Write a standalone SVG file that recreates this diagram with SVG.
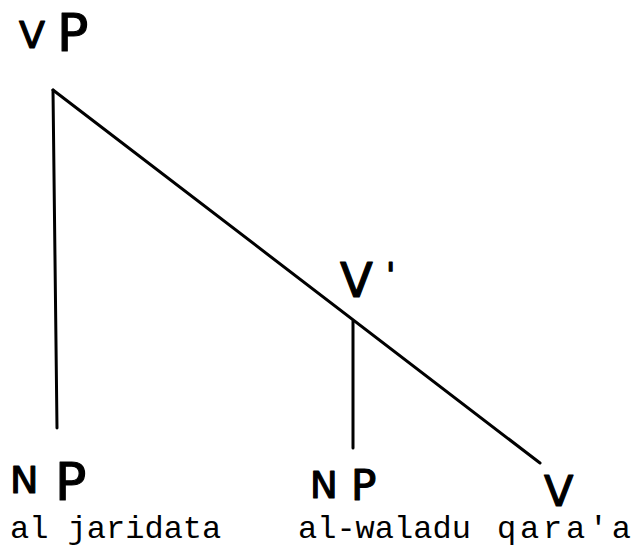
<svg xmlns="http://www.w3.org/2000/svg" width="634" height="549" viewBox="0 0 634 549">
<style>
.hand{font-family:"DejaVu Sans","Liberation Sans",sans-serif;fill:#000;stroke:#000;stroke-width:1.2;stroke-linejoin:round}
.typed{font-family:"Liberation Mono","DejaVu Sans Mono",monospace;font-size:32px;fill:#000}
.edge{stroke:#000;stroke-width:3;fill:none;stroke-linecap:round}
</style>
<rect width="634" height="549" fill="#fff"/>
<g id="connectors">
<line class="edge" x1="53" y1="90" x2="57" y2="428"/>
<line class="edge" x1="53" y1="90" x2="540" y2="463"/>
<line class="edge" x1="353" y1="321" x2="353" y2="448"/>
</g>
<g id="VP">
<text class="hand" x="19" y="48" font-size="38">V</text>
<text class="hand" x="57" y="51" font-size="52">P</text>
</g>
<g id="Vbar">
<text class="hand" x="340" y="297" font-size="48">V</text>
<text class="hand" x="386" y="287" font-size="34">'</text>
</g>
<g id="NP1">
<text class="hand" x="10" y="493" font-size="38">N</text>
<text class="hand" x="55" y="500" font-size="52">P</text>
<text class="typed" x="10" y="538">al jaridata</text>
</g>
<g id="NP2">
<text class="hand" x="310" y="498" font-size="37">N</text>
<text class="hand" x="351" y="500" font-size="42">P</text>
<text class="typed" x="298" y="538">al-waladu</text>
</g>
<g id="V">
<text class="hand" x="544" y="506" font-size="43">V</text>
<text class="typed" x="497" y="538" textLength="134" lengthAdjust="spacing">qara'a</text>
</g>
</svg>
